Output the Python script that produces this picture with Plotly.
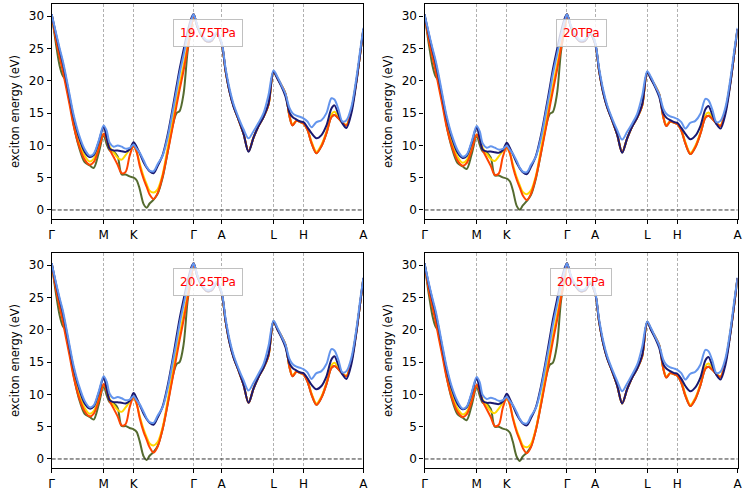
import plotly.graph_objects as go
from plotly.subplots import make_subplots

# k-path coordinate (same grid for every band)
K_PATH = [0, 4, 8, 11, 14, 18, 22, 27, 33, 38,
          42, 47, 52, 55, 58, 62, 66, 70, 74, 78,
          82, 85, 88, 92, 95, 98, 102, 106, 111, 116,
          121, 125, 128, 132, 136, 140, 142, 146, 150, 155,
          160, 165, 170, 174, 178, 182, 187, 192, 197, 202,
          207, 212, 217, 222, 226, 230, 234, 238, 241, 245,
          249, 252, 256, 260, 265, 270, 275, 280, 283, 287,
          291, 295, 300, 305, 309, 312]

TICK_POS = [0, 52, 82, 142, 170, 222, 252, 312]
TICK_TEXT = ["Γ", "M", "K", "Γ", "A", "L", "H", "A"]

PRESSURES = ["19.75TPa", "20TPa", "20.25TPa", "20.5TPa"]

# ---- 19.75 TPa ----
BLUE_1975 = [30.3, 27.6, 25.0, 23.2, 21.0, 17.8, 14.7, 11.8, 9.4, 8.4,
             8.7, 10.7, 13.1, 12.3, 10.4, 9.8, 10.0, 9.8, 9.5, 9.6,
             10.1, 9.5, 8.9, 7.7, 6.7, 6.1, 6.0, 7.1, 8.4, 11.2,
             15.2, 18.5, 21.1, 24.0, 26.9, 29.4, 30.3, 28.5, 27.2, 26.3,
             26.4, 27.5, 26.0, 22.0, 18.8, 16.4, 14.3, 12.5, 11.1, 12.2,
             13.5, 15.0, 17.8, 21.6, 20.6, 19.3, 18.0, 15.8, 15.0, 14.6,
             14.4, 14.2, 13.7, 12.8, 13.6, 13.9, 15.0, 17.3, 17.1, 15.6,
             13.7, 13.9, 16.0, 20.5, 25.0, 28.2]
NAVY_1975 = [30.3, 27.4, 24.7, 22.8, 20.6, 17.4, 14.3, 11.4, 9.0, 8.2,
             8.5, 10.5, 12.9, 11.2, 9.5, 9.2, 9.2, 9.1, 9.0, 9.4,
             10.5, 9.8, 8.8, 7.4, 6.6, 6.0, 5.7, 6.8, 8.5, 11.6,
             15.7, 19.2, 21.8, 24.8, 27.6, 29.8, 30.3, 28.3, 27.0, 26.1,
             26.2, 27.3, 25.8, 21.6, 18.3, 16.0, 14.0, 11.8, 9.0, 11.2,
             13.0, 14.4, 16.5, 21.4, 20.3, 19.1, 17.6, 15.1, 14.4, 14.0,
             13.7, 13.6, 12.8, 11.9, 11.1, 11.6, 13.1, 15.7, 16.2, 14.8,
             13.4, 12.7, 15.0, 19.8, 24.5, 28.0]
ORANGE_1975 = [30.3, 26.6, 23.6, 21.6, 19.3, 16.2, 13.0, 10.1, 7.8, 7.0,
               7.4, 9.4, 11.8, 10.9, 9.4, 8.2, 7.0, 5.7, 5.9, 8.4,
               9.9, 9.0, 6.9, 4.8, 3.6, 2.4, 1.7, 2.6, 5.2, 8.9,
               12.8, 16.2, 18.6, 21.6, 25.0, 28.5, 30.3, 28.3, 27.0, 26.1,
               26.2, 27.3, 25.8, 21.6, 18.4, 16.1, 14.0, 11.8, 9.1, 11.2,
               13.0, 14.4, 16.3, 21.4, 20.4, 19.3, 18.0, 14.5, 13.1, 13.8,
               13.6, 13.4, 12.4, 10.4, 8.8, 9.9, 11.9, 14.4, 14.7, 14.2,
               13.5, 13.1, 15.5, 20.0, 24.5, 28.0]
YELLOW_1975 = [30.3, 27.0, 24.0, 22.1, 19.8, 16.7, 13.5, 10.6, 8.4, 7.5,
               7.9, 9.8, 11.8, 11.1, 9.8, 8.9, 8.1, 7.8, 8.5, 9.3,
               9.8, 9.0, 7.3, 5.2, 4.0, 3.0, 2.7, 3.2, 5.5, 9.6,
               13.8, 17.1, 19.4, 22.4, 25.5, 28.7, 30.3, 28.3, 27.0, 26.1,
               26.2, 27.3, 25.8, 21.6, 18.4, 16.1, 14.0, 11.8, 9.1, 11.2,
               13.0, 14.4, 16.3, 21.4, 20.4, 19.3, 18.0, 14.6, 13.3, 13.8,
               13.6, 13.4, 12.5, 10.6, 9.0, 10.1, 12.1, 14.8, 15.2, 14.4,
               13.6, 13.2, 15.5, 20.0, 24.5, 28.0]
GREEN_1975 = [30.3, 26.0, 22.3, 20.8, 20.1, 17.0, 13.2, 9.9, 7.4, 6.9,
              6.5, 8.8, 11.6, 10.2, 9.2, 9.0, 8.3, 5.5, 5.5, 5.2,
              5.0, 4.6, 3.3, 0.9, 0.35, 1.0, 1.6, 2.5, 5.0, 8.9,
              13.0, 15.0, 15.3, 18.0, 24.5, 28.5, 30.3, 28.3, 27.0, 26.1,
              26.2, 27.3, 25.8, 21.6, 18.4, 16.1, 14.0, 11.8, 9.1, 11.2,
              13.0, 14.4, 16.3, 21.4, 20.4, 19.3, 18.0, 14.5, 13.1, 13.8,
              13.6, 13.4, 12.4, 10.4, 8.8, 9.9, 11.9, 14.4, 14.7, 14.2,
              13.5, 13.1, 15.5, 20.0, 24.5, 28.0]

# ---- 20 TPa ----
BLUE_2000 = [30.3, 27.6, 25.0, 23.2, 21.0, 17.7, 14.6, 11.7, 9.25, 8.25,
             8.55, 10.6, 13.0, 12.2, 10.3, 9.65, 9.85, 9.65, 9.35, 9.45,
             9.95, 9.35, 8.75, 7.55, 6.55, 5.95, 5.85, 6.95, 8.25, 11.1,
             15.1, 18.4, 21.1, 24.0, 26.9, 29.4, 30.3, 28.5, 27.2, 26.3,
             26.4, 27.5, 26.0, 22.0, 18.7, 16.3, 14.2, 12.4, 10.9, 12.1,
             13.4, 14.9, 17.7, 21.5, 20.5, 19.2, 17.9, 15.7, 14.9, 14.5,
             14.3, 14.1, 13.6, 12.6, 13.5, 13.8, 14.9, 17.2, 17.0, 15.5,
             13.6, 13.8, 15.9, 20.4, 25.0, 28.2]
NAVY_2000 = [30.3, 27.4, 24.7, 22.8, 20.5, 17.3, 14.2, 11.3, 8.85, 8.05,
             8.35, 10.4, 12.8, 11.1, 9.35, 9.05, 9.05, 8.95, 8.85, 9.25,
             10.4, 9.65, 8.65, 7.25, 6.45, 5.85, 5.55, 6.65, 8.35, 11.5,
             15.6, 19.1, 21.8, 24.8, 27.6, 29.8, 30.3, 28.3, 27.0, 26.1,
             26.2, 27.3, 25.8, 21.6, 18.2, 15.9, 13.9, 11.7, 8.85, 11.1,
             12.9, 14.3, 16.4, 21.3, 20.2, 19.0, 17.5, 15.0, 14.3, 13.9,
             13.6, 13.5, 12.7, 11.8, 10.95, 11.5, 13.0, 15.6, 16.1, 14.7,
             13.3, 12.6, 14.9, 19.7, 24.5, 28.0]
ORANGE_2000 = [30.3, 26.6, 23.6, 21.5, 19.2, 16.1, 12.9, 10.0, 7.65, 6.85,
               7.25, 9.25, 11.7, 10.8, 9.25, 8.05, 6.85, 5.45, 5.65, 8.2,
               9.75, 8.85, 6.75, 4.65, 3.45, 2.25, 1.55, 2.45, 5.05, 8.75,
               12.7, 16.1, 18.5, 21.6, 25.0, 28.5, 30.3, 28.3, 27.0, 26.1,
               26.2, 27.3, 25.8, 21.6, 18.3, 16.0, 13.9, 11.7, 8.95, 11.1,
               12.9, 14.3, 16.2, 21.3, 20.3, 19.2, 17.9, 14.4, 13.0, 13.7,
               13.5, 13.3, 12.3, 10.3, 8.65, 9.75, 11.8, 14.3, 14.6, 14.1,
               13.4, 13.0, 15.4, 19.9, 24.5, 28.0]
YELLOW_2000 = [30.3, 27.0, 24.0, 22.0, 19.7, 16.6, 13.4, 10.5, 8.2, 7.3,
               7.7, 9.6, 11.7, 11.0, 9.6, 8.7, 7.9, 7.6, 8.3, 9.1,
               9.6, 8.8, 7.1, 5.0, 3.8, 2.8, 2.45, 3.0, 5.3, 9.4,
               13.7, 17.0, 19.3, 22.4, 25.5, 28.7, 30.3, 28.3, 27.0, 26.1,
               26.2, 27.3, 25.8, 21.6, 18.3, 16.0, 13.9, 11.7, 8.95, 11.1,
               12.9, 14.3, 16.2, 21.3, 20.3, 19.2, 17.9, 14.5, 13.2, 13.7,
               13.5, 13.3, 12.4, 10.5, 8.85, 9.95, 12.0, 14.7, 15.1, 14.3,
               13.5, 13.1, 15.4, 19.9, 24.5, 28.0]
GREEN_2000 = [30.3, 26.0, 22.3, 20.7, 20.0, 16.9, 13.1, 9.75, 7.25, 6.75,
              6.35, 8.65, 11.5, 10.1, 9.05, 8.85, 8.15, 5.35, 5.35, 5.05,
              4.85, 4.45, 3.1, 0.6, 0.05, 0.7, 1.4, 2.3, 4.85, 8.75,
              12.9, 14.9, 15.2, 17.9, 24.5, 28.5, 30.3, 28.3, 27.0, 26.1,
              26.2, 27.3, 25.8, 21.6, 18.3, 16.0, 13.9, 11.7, 8.95, 11.1,
              12.9, 14.3, 16.2, 21.3, 20.3, 19.2, 17.9, 14.4, 13.0, 13.7,
              13.5, 13.3, 12.3, 10.3, 8.65, 9.75, 11.8, 14.3, 14.6, 14.1,
              13.4, 13.0, 15.4, 19.9, 24.5, 28.0]

# ---- 20.25 TPa ----
BLUE_2025 = [30.3, 27.5, 24.9, 23.1, 20.8, 17.5, 14.4, 11.5, 9.0, 8.0,
             8.3, 10.4, 12.8, 12.0, 10.1, 9.4, 9.6, 9.4, 9.1, 9.2,
             9.7, 9.1, 8.5, 7.3, 6.3, 5.7, 5.6, 6.7, 8.0, 10.9,
             14.9, 18.2, 20.9, 23.9, 26.8, 29.4, 30.3, 28.4, 27.1, 26.2,
             26.3, 27.4, 25.9, 21.8, 18.5, 16.1, 14.0, 12.2, 10.6, 11.8,
             13.2, 14.7, 17.5, 21.4, 20.3, 19.0, 17.7, 15.5, 14.7, 14.3,
             14.1, 13.9, 13.4, 12.4, 13.3, 13.6, 14.7, 17.0, 16.8, 15.3,
             13.4, 13.6, 15.7, 20.2, 24.9, 28.1]
NAVY_2025 = [30.3, 27.3, 24.6, 22.7, 20.4, 17.1, 14.0, 11.1, 8.6, 7.8,
             8.1, 10.2, 12.6, 10.9, 9.1, 8.8, 8.8, 8.7, 8.6, 9.0,
             10.2, 9.4, 8.4, 7.0, 6.2, 5.6, 5.3, 6.4, 8.1, 11.3,
             15.4, 19.0, 21.7, 24.7, 27.5, 29.8, 30.3, 28.2, 26.9, 26.0,
             26.1, 27.2, 25.7, 21.4, 18.0, 15.7, 13.7, 11.5, 8.7, 10.9,
             12.7, 14.1, 16.2, 21.3, 20.0, 18.8, 17.3, 14.8, 14.1, 13.7,
             13.4, 13.3, 12.5, 11.5, 10.8, 11.3, 12.8, 15.4, 15.9, 14.5,
             13.1, 12.4, 14.7, 19.6, 24.4, 28.0]
ORANGE_2025 = [30.3, 26.5, 23.5, 21.4, 19.0, 15.9, 12.7, 9.7, 7.4, 6.6,
               7.0, 9.0, 11.6, 10.6, 9.0, 7.8, 6.6, 5.2, 5.4, 8.0,
               9.6, 8.6, 6.4, 4.2, 3.0, 1.8, 1.0, 1.9, 4.6, 8.4,
               12.5, 15.9, 18.4, 21.5, 24.9, 28.4, 30.3, 28.2, 26.9, 26.0,
               26.1, 27.2, 25.7, 21.4, 18.1, 15.8, 13.7, 11.5, 8.7, 10.9,
               12.7, 14.1, 16.0, 21.3, 20.1, 19.0, 17.7, 14.2, 12.8, 13.5,
               13.3, 13.1, 12.0, 10.0, 8.4, 9.5, 11.6, 14.1, 14.4, 13.9,
               13.2, 12.8, 15.2, 19.8, 24.4, 28.0]
YELLOW_2025 = [30.3, 26.9, 23.9, 21.9, 19.5, 16.4, 13.2, 10.2, 7.9, 7.0,
               7.4, 9.3, 11.5, 10.8, 9.3, 8.4, 7.6, 7.3, 8.0, 8.8,
               9.4, 8.5, 6.7, 4.6, 3.4, 2.4, 2.1, 2.6, 4.9, 9.0,
               13.4, 16.8, 19.2, 22.3, 25.4, 28.6, 30.3, 28.2, 26.9, 26.0,
               26.1, 27.2, 25.7, 21.4, 18.1, 15.8, 13.7, 11.5, 8.7, 10.9,
               12.7, 14.1, 16.0, 21.3, 20.1, 19.0, 17.7, 14.3, 13.0, 13.5,
               13.3, 13.1, 12.2, 10.2, 8.6, 9.7, 11.8, 14.5, 14.9, 14.1,
               13.3, 12.9, 15.2, 19.8, 24.4, 28.0]
GREEN_2025 = [30.3, 25.9, 22.2, 20.6, 19.9, 16.7, 12.9, 9.5, 7.0, 6.5,
              6.1, 8.4, 11.3, 9.9, 8.8, 8.6, 7.9, 5.1, 5.1, 4.8,
              4.6, 4.2, 2.8, 0.4, -0.15, 0.5, 1.1, 2.0, 4.6, 8.5,
              12.7, 14.7, 15.0, 17.7, 24.4, 28.4, 30.3, 28.2, 26.9, 26.0,
              26.1, 27.2, 25.7, 21.4, 18.1, 15.8, 13.7, 11.5, 8.7, 10.9,
              12.7, 14.1, 16.0, 21.3, 20.1, 19.0, 17.7, 14.2, 12.8, 13.5,
              13.3, 13.1, 12.0, 10.0, 8.4, 9.5, 11.6, 14.1, 14.4, 13.9,
              13.2, 12.8, 15.2, 19.8, 24.4, 28.0]

# ---- 20.5 TPa ----
BLUE_2050 = [30.3, 27.4, 24.8, 23.0, 20.7, 17.4, 14.3, 11.3, 8.9, 7.8,
             8.1, 10.3, 12.7, 11.9, 9.9, 9.3, 9.5, 9.3, 9.0, 9.1,
             9.6, 9.0, 8.4, 7.2, 6.2, 5.6, 5.5, 6.6, 7.9, 10.8,
             14.8, 18.1, 20.8, 23.8, 26.8, 29.3, 30.3, 28.4, 27.1, 26.2,
             26.3, 27.4, 25.9, 21.7, 18.4, 16.0, 13.9, 12.1, 10.5, 11.7,
             13.1, 14.6, 17.4, 21.3, 20.2, 18.9, 17.6, 15.4, 14.6, 14.2,
             14.0, 13.8, 13.3, 12.3, 13.2, 13.5, 14.6, 16.9, 16.7, 15.2,
             13.3, 13.5, 15.6, 20.1, 24.8, 28.1]
NAVY_2050 = [30.3, 27.2, 24.5, 22.6, 20.3, 17.0, 13.9, 10.9, 8.5, 7.7,
             8.0, 10.1, 12.5, 10.8, 9.0, 8.7, 8.7, 8.6, 8.5, 8.9,
             10.1, 9.3, 8.3, 6.9, 6.1, 5.5, 5.2, 6.3, 8.0, 11.2,
             15.3, 18.9, 21.6, 24.6, 27.5, 29.7, 30.3, 28.2, 26.9, 26.0,
             26.1, 27.2, 25.7, 21.3, 17.9, 15.6, 13.6, 11.4, 8.6, 10.8,
             12.6, 14.0, 16.1, 21.2, 19.9, 18.7, 17.2, 14.7, 14.0, 13.6,
             13.3, 13.2, 12.4, 11.3, 10.5, 11.1, 12.6, 15.3, 15.8, 14.4,
             13.0, 12.3, 14.6, 19.5, 24.3, 28.0]
ORANGE_2050 = [30.3, 26.4, 23.4, 21.3, 18.9, 15.8, 12.6, 9.6, 7.3, 6.5,
               6.9, 8.9, 11.5, 10.5, 8.9, 7.7, 6.5, 5.1, 5.3, 7.9,
               9.5, 8.5, 6.3, 4.1, 2.9, 1.7, 0.9, 1.8, 4.5, 8.3,
               12.4, 15.8, 18.3, 21.4, 24.9, 28.4, 30.3, 28.2, 26.9, 26.0,
               26.1, 27.2, 25.7, 21.3, 18.0, 15.7, 13.6, 11.4, 8.6, 10.8,
               12.6, 14.0, 15.9, 21.2, 20.0, 18.9, 17.6, 14.0, 12.6, 13.3,
               13.1, 12.9, 11.8, 9.8, 8.2, 9.3, 11.4, 14.0, 14.3, 13.8,
               13.1, 12.7, 15.1, 19.7, 24.3, 28.0]
YELLOW_2050 = [30.3, 26.8, 23.8, 21.8, 19.4, 16.3, 13.1, 10.1, 7.8, 6.9,
               7.3, 9.2, 11.4, 10.7, 9.2, 8.3, 7.4, 7.1, 7.8, 8.7,
               9.3, 8.4, 6.5, 4.4, 3.2, 2.1, 1.8, 2.3, 4.7, 8.8,
               13.3, 16.7, 19.1, 22.2, 25.4, 28.6, 30.3, 28.2, 26.9, 26.0,
               26.1, 27.2, 25.7, 21.3, 18.0, 15.7, 13.6, 11.4, 8.6, 10.8,
               12.6, 14.0, 15.9, 21.2, 20.0, 18.9, 17.6, 14.1, 12.8, 13.3,
               13.1, 12.9, 12.0, 10.0, 8.4, 9.5, 11.6, 14.4, 14.8, 14.0,
               13.2, 12.8, 15.1, 19.7, 24.3, 28.0]
GREEN_2050 = [30.3, 25.8, 22.1, 20.5, 19.8, 16.6, 12.8, 9.4, 6.9, 6.4,
              6.0, 8.3, 11.2, 9.8, 8.7, 8.5, 7.8, 5.0, 5.0, 4.7,
              4.5, 4.1, 2.7, 0.3, -0.3, 0.4, 1.0, 1.9, 4.5, 8.4,
              12.6, 14.6, 14.9, 17.6, 24.4, 28.4, 30.3, 28.2, 26.9, 26.0,
              26.1, 27.2, 25.7, 21.3, 18.0, 15.7, 13.6, 11.4, 8.6, 10.8,
              12.6, 14.0, 15.9, 21.2, 20.0, 18.9, 17.6, 14.0, 12.6, 13.3,
              13.1, 12.9, 11.8, 9.8, 8.2, 9.3, 11.4, 14.0, 14.3, 13.8,
              13.1, 12.7, 15.1, 19.7, 24.3, 28.0]

# drawing order: first one is at the bottom
BAND_COLORS = ["darkolivegreen", "gold", "orangered", "midnightblue", "cornflowerblue"]

PANELS = [
    (PRESSURES[0], [GREEN_1975, YELLOW_1975, ORANGE_1975, NAVY_1975, BLUE_1975]),
    (PRESSURES[1], [GREEN_2000, YELLOW_2000, ORANGE_2000, NAVY_2000, BLUE_2000]),
    (PRESSURES[2], [GREEN_2025, YELLOW_2025, ORANGE_2025, NAVY_2025, BLUE_2025]),
    (PRESSURES[3], [GREEN_2050, YELLOW_2050, ORANGE_2050, NAVY_2050, BLUE_2050]),
]

X_DOMAINS = [[0.0692, 0.4865], [0.5683, 0.9873]]
Y_DOMAINS = [[0.5602, 0.992], [0.0602, 0.492]]

fig = make_subplots(rows=2, cols=2)

for i, (label, bands) in enumerate(PANELS):
    row, col = i // 2 + 1, i % 2 + 1
    for y, color in zip(bands, BAND_COLORS):
        fig.add_trace(go.Scatter(
            x=K_PATH, y=y, mode="lines",
            line=dict(color=color, width=2, shape="spline", smoothing=0.9),
            showlegend=False, hoverinfo="skip"),
            row=row, col=col)
    fig.add_hline(y=0, line=dict(color="#333333", width=1, dash="4px,2px"), row=row, col=col)

    n = "" if i == 0 else str(i + 1)
    fig.add_annotation(
        x=156, y=27.4, xref="x" + n, yref="y" + n, text=label, showarrow=False,
        font=dict(color="red", size=12),
        bgcolor="rgba(255,255,255,0.8)", bordercolor="#c0c0c0",
        borderwidth=1, borderpad=6)

    fig.update_xaxes(
        domain=X_DOMAINS[col - 1], range=[0, 312], automargin=False,
        tickvals=TICK_POS, ticktext=TICK_TEXT,
        showgrid=True, gridcolor="#b0b0b0", griddash="3px,2px", gridwidth=0.8,
        showline=True, linecolor="black", linewidth=1.3, mirror=True,
        ticks="outside", ticklen=4, tickcolor="black",
        tickfont=dict(size=12, color="black"), zeroline=False,
        row=row, col=col)
    fig.update_yaxes(
        domain=Y_DOMAINS[row - 1], range=[-1.4, 31.9], automargin=False,
        tickvals=[0, 5, 10, 15, 20, 25, 30],
        showgrid=False, zeroline=False,
        showline=True, linecolor="black", linewidth=1.3, mirror=True,
        ticks="outside", ticklen=4, tickcolor="black",
        tickfont=dict(size=12, color="black"),
        title=dict(text="exciton energy (eV)", font=dict(size=11.5, color="black"), standoff=6),
        row=row, col=col)

fig.update_layout(
    width=747, height=498,
    margin=dict(l=0, r=0, t=0, b=0),
    plot_bgcolor="white", paper_bgcolor="white",
    font=dict(family="DejaVu Sans", color="black"),
)

# the browser puts an 8px margin round <body>; drop it so the figure sits at the corner
fig.write_html("out.html", config={"displayModeBar": False},
               post_script="document.body.style.margin='0';")
